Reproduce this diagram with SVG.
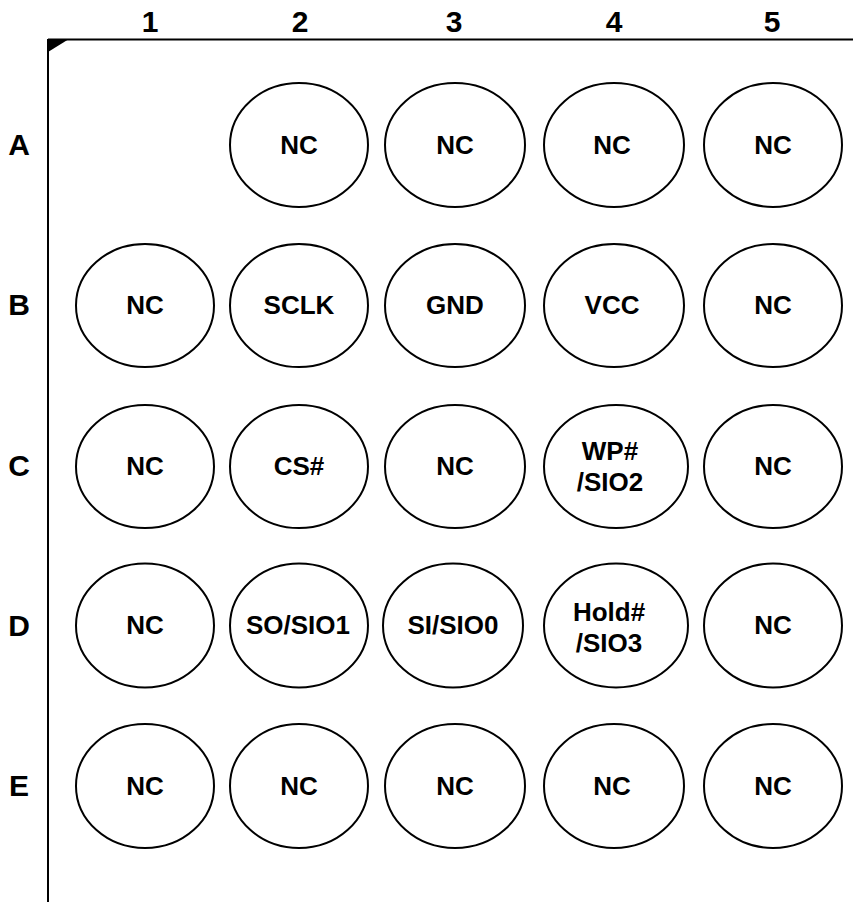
<svg xmlns="http://www.w3.org/2000/svg" width="853" height="902" viewBox="0 0 853 902">
<style>
.b{fill:#fff;stroke:#000;stroke-width:2}
.t{font-family:"Liberation Sans",Arial,sans-serif;font-weight:bold;font-size:26px;text-anchor:middle;fill:#000}
.h{font-family:"Liberation Sans",Arial,sans-serif;font-weight:bold;font-size:30px;text-anchor:middle;fill:#000}
.f{stroke:#000;stroke-width:2;fill:none}
</style>
<rect width="853" height="902" fill="#fff"/>
<g id="frame">
<line class="f" x1="48" y1="39.5" x2="853" y2="39.5"/>
<line class="f" x1="48" y1="39" x2="48" y2="902"/>
<polygon points="48,39 69,39 48,52" fill="#000"/>
</g>
<g id="col-labels">
<text class="h" x="150" y="32">1</text>
<text class="h" x="300" y="32">2</text>
<text class="h" x="454" y="32">3</text>
<text class="h" x="614" y="32">4</text>
<text class="h" x="772" y="32">5</text>
</g>
<g id="row-labels">
<text class="h" x="19" y="155">A</text>
<text class="h" x="19" y="315">B</text>
<text class="h" x="19" y="476">C</text>
<text class="h" x="19" y="636">D</text>
<text class="h" x="19" y="796">E</text>
</g>
<g id="A2"><ellipse class="b" cx="299" cy="145" rx="69" ry="62"/><text class="t" x="299" y="154">NC</text></g>
<g id="A3"><ellipse class="b" cx="455" cy="145" rx="70" ry="62"/><text class="t" x="455" y="154">NC</text></g>
<g id="A4"><ellipse class="b" cx="614" cy="145" rx="70" ry="62"/><text class="t" x="612" y="154">NC</text></g>
<g id="A5"><ellipse class="b" cx="773" cy="145" rx="69" ry="62"/><text class="t" x="773" y="154">NC</text></g>

<g id="B1"><ellipse class="b" cx="145" cy="305.5" rx="69" ry="61.5"/><text class="t" x="145" y="314">NC</text></g>
<g id="B2"><ellipse class="b" cx="299" cy="305.5" rx="69" ry="61.5"/><text class="t" x="299" y="314">SCLK</text></g>
<g id="B3"><ellipse class="b" cx="455" cy="305.5" rx="70" ry="61.5"/><text class="t" x="455" y="314">GND</text></g>
<g id="B4"><ellipse class="b" cx="614" cy="305.5" rx="70" ry="61.5"/><text class="t" x="612" y="314">VCC</text></g>
<g id="B5"><ellipse class="b" cx="773" cy="305.5" rx="69" ry="61.5"/><text class="t" x="773" y="314">NC</text></g>

<g id="C1"><ellipse class="b" cx="145" cy="466.5" rx="69" ry="61.5"/><text class="t" x="145" y="475">NC</text></g>
<g id="C2"><ellipse class="b" cx="299" cy="466.5" rx="69" ry="61.5"/><text class="t" x="299" y="475">CS#</text></g>
<g id="C3"><ellipse class="b" cx="455" cy="466.5" rx="70" ry="61.5"/><text class="t" x="455" y="475">NC</text></g>
<g id="C4"><ellipse class="b" cx="616" cy="466.5" rx="72" ry="61.5"/><text class="t" x="610" y="460">WP#</text><text class="t" x="610" y="491">/SIO2</text></g>
<g id="C5"><ellipse class="b" cx="773" cy="466.5" rx="69" ry="61.5"/><text class="t" x="773" y="475">NC</text></g>

<g id="D1"><ellipse class="b" cx="145" cy="625.5" rx="69" ry="62"/><text class="t" x="145" y="634">NC</text></g>
<g id="D2"><ellipse class="b" cx="299" cy="625.5" rx="69" ry="62"/><text class="t" x="298" y="634">SO/SIO1</text></g>
<g id="D3"><ellipse class="b" cx="453" cy="625.5" rx="70" ry="62"/><text class="t" x="453" y="634">SI/SIO0</text></g>
<g id="D4"><ellipse class="b" cx="616" cy="625.5" rx="72" ry="62"/><text class="t" x="609" y="621">Hold#</text><text class="t" x="609" y="652">/SIO3</text></g>
<g id="D5"><ellipse class="b" cx="773" cy="625.5" rx="69" ry="62"/><text class="t" x="773" y="634">NC</text></g>

<g id="E1"><ellipse class="b" cx="145" cy="786" rx="69" ry="62"/><text class="t" x="145" y="795">NC</text></g>
<g id="E2"><ellipse class="b" cx="299" cy="786" rx="69" ry="62"/><text class="t" x="299" y="795">NC</text></g>
<g id="E3"><ellipse class="b" cx="455" cy="786" rx="70" ry="62"/><text class="t" x="455" y="795">NC</text></g>
<g id="E4"><ellipse class="b" cx="614" cy="786" rx="70" ry="62"/><text class="t" x="612" y="795">NC</text></g>
<g id="E5"><ellipse class="b" cx="773" cy="786" rx="69" ry="62"/><text class="t" x="773" y="795">NC</text></g>
<g id="connectors"></g>
</svg>
